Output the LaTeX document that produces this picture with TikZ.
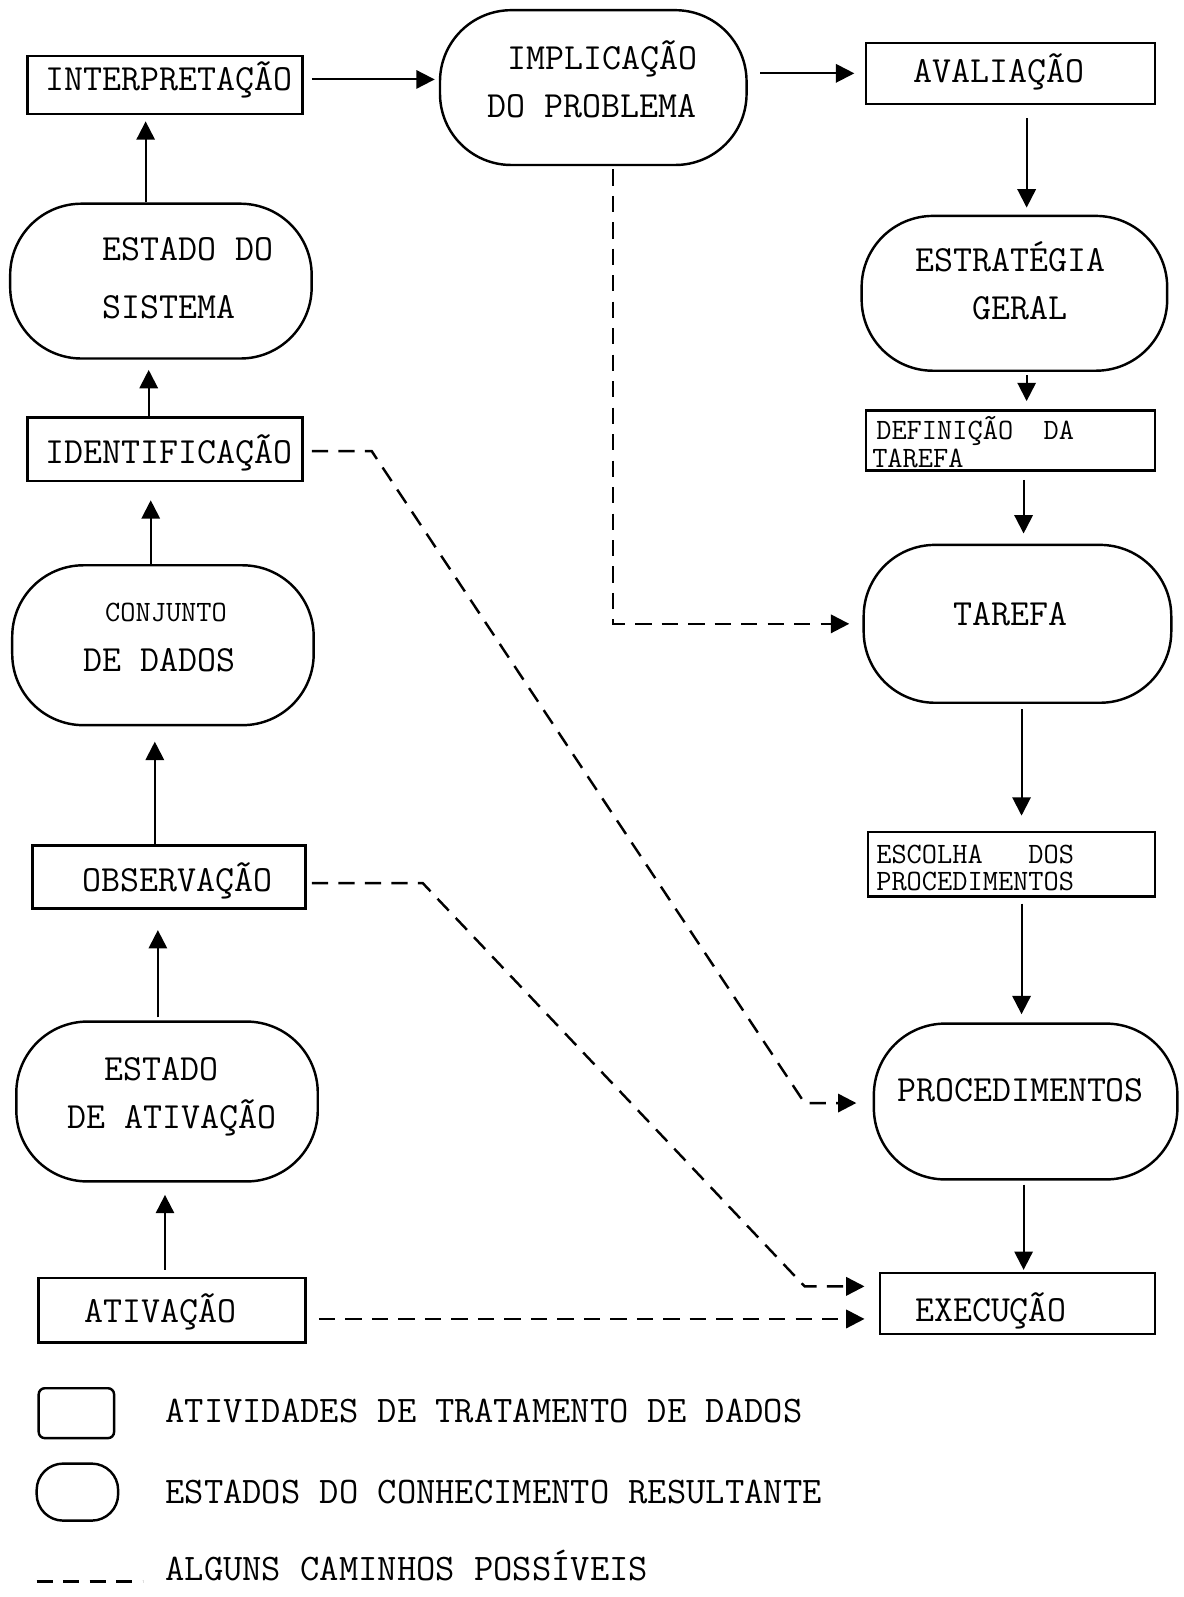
\documentclass[tikz,border=0pt]{standalone}
\usepackage{fontspec}
\usetikzlibrary{arrows.meta}
% typewriter-style lettering
\newcommand\lblfont{\ttfamily\fontsize{18.1pt}{20pt}\selectfont}
\newcommand\keyfont{\ttfamily\fontsize{18.4pt}{20pt}\selectfont}
\newcommand\cndfont{\ttfamily\fontsize{14.5pt}{16pt}\selectfont}
\begin{document}
\begin{tikzpicture}[x=0.5pt,y=-0.5pt,
  actbox/.style={draw, line width=1.2pt, inner sep=0pt},
  knowstate/.style={draw, line width=1.2pt, rounded corners=35pt, inner sep=0pt},
  lbl/.style={font=\lblfont, inner sep=0pt},
  keylbl/.style={font=\keyfont, inner sep=0pt},
  cnd/.style={font=\cndfont, inner sep=0pt},
  arr/.style={line width=1pt, -{Triangle[length=9pt,width=9pt]}},
  dsh/.style={line width=1.2pt, dash pattern=on 8pt off 5pt, -{Triangle[length=9pt,width=9pt]}}]
\useasboundingbox (0,0) rectangle (1162,1568);

% ---- left column (analysis) ----
\node[actbox, minimum width=135pt, minimum height=28.5pt] (interp) at (162,83.5) {};
\node[lbl, anchor=base] at (166,89) {INTERPRETAÇÃO};

\node[knowstate, minimum width=148pt, minimum height=76pt] (sis) at (158,276) {};
\node[lbl, anchor=base west] at (100,256) {ESTADO DO};
\node[lbl, anchor=base west] at (100,313) {SISTEMA};

\node[actbox, minimum width=135pt, minimum height=31pt] (ident) at (162,441) {};
\node[lbl, anchor=base] at (166,455) {IDENTIFICAÇÃO};

\node[knowstate, minimum width=148pt, minimum height=78.5pt] (conj) at (160,633.5) {};
\node[cnd, anchor=base] at (163,610) {CONJUNTO};
\node[lbl, anchor=base west] at (82,659) {DE DADOS};

\node[actbox, minimum width=134pt, minimum height=31pt] (obs) at (166,861) {};
\node[lbl, anchor=base] at (174,875) {OBSERVAÇÃO};

\node[knowstate, minimum width=148pt, minimum height=78.5pt] (eativ) at (164,1081.5) {};
\node[lbl, anchor=base west] at (102,1061) {ESTADO};
\node[lbl, anchor=base west] at (66,1108) {DE ATIVAÇÃO};

\node[actbox, minimum width=131pt, minimum height=31.5pt] (ativ) at (169,1286.5) {};
\node[lbl, anchor=base] at (158,1298) {ATIVAÇÃO};

% ---- top ----
\node[knowstate, minimum width=150.5pt, minimum height=76pt] (impl) at (582.5,86) {};
\node[lbl, anchor=base west] at (498,68) {IMPLICAÇÃO};
\node[lbl, anchor=base west] at (478,115) {DO PROBLEMA};

\node[actbox, minimum width=142pt, minimum height=30pt] (aval) at (992,72) {};
\node[lbl, anchor=base] at (981,81) {AVALIAÇÃO};

% ---- right column (planning and execution) ----
\node[knowstate, minimum width=150pt, minimum height=76pt] (estr) at (996,288) {};
\node[lbl, anchor=base] at (992,267) {ESTRATÉGIA};
\node[lbl, anchor=base] at (1001,314) {GERAL};

\node[actbox, minimum width=142pt, minimum height=29.5pt] (def) at (992,432.5) {};
\node[cnd, anchor=base west] at (860,432) {DEFINIÇÃO~~DA};
\node[cnd, anchor=base west] at (856,459) {TAREFA};

\node[knowstate, minimum width=151pt, minimum height=77.5pt] (tar) at (999,612.5) {};
\node[lbl, anchor=base] at (992,614) {TAREFA};

\node[actbox, minimum width=141pt, minimum height=31.5pt] (esc) at (993,848.5) {};
\node[cnd, anchor=base west] at (860,848) {ESCOLHA~~~DOS};
\node[cnd, anchor=base west] at (860,874) {PROCEDIMENTOS};

\node[knowstate, minimum width=149pt, minimum height=76.5pt] (proc) at (1007,1081.5) {};
\node[lbl, anchor=base] at (1002,1081) {PROCEDIMENTOS};

\node[actbox, minimum width=135pt, minimum height=30pt] (exec) at (999,1280) {};
\node[lbl, anchor=base] at (973,1297) {EXECUÇÃO};

% ---- solid connectors ----
\draw[arr, shorten >=3pt] ([xshift=-7.5pt]sis.north) -- ([xshift=-7.5pt]sis.north |- interp.south);
\draw[arr, shorten >=5pt] ([xshift=-8pt]ident.north) -- ([xshift=-8pt]ident.north |- sis.south);
\draw[arr, shorten >=9pt] ([xshift=-6pt]conj.north) -- ([xshift=-6pt]conj.north |- ident.south);
\draw[arr, shorten >=7.5pt] ([xshift=-7pt]obs.north) -- ([xshift=-7pt]obs.north |- conj.south);
\draw[arr, shorten <=1.5pt, shorten >=10pt] ([xshift=-4.5pt]eativ.north) -- ([xshift=-4.5pt]eativ.north |- obs.south);
\draw[arr, shorten <=3.5pt, shorten >=6pt] ([xshift=-3.5pt]ativ.north) -- ([xshift=-3.5pt]ativ.north |- eativ.south);
\draw[arr, shorten <=4pt, shorten >=2pt] ([yshift=2.75pt]interp.east) -- ([yshift=2.75pt]interp.east -| impl.west);
\draw[arr, shorten <=6pt, shorten >=5pt] (impl.east |- aval.west) -- (aval.west);
\draw[arr, shorten <=6.5pt, shorten >=3.5pt] ([xshift=8pt]aval.south) -- ([xshift=8pt]aval.south |- estr.north);
\draw[arr, shorten <=1.5pt, shorten >=4pt] ([xshift=6pt]estr.south) -- ([xshift=6pt]estr.south |- def.north);
\draw[arr, shorten <=4pt, shorten >=5pt] ([xshift=6.5pt]def.south) -- ([xshift=6.5pt]def.south |- tar.north);
\draw[arr, shorten <=2.5pt, shorten >=7.5pt] ([xshift=2pt]tar.south) -- ([xshift=2pt]tar.south |- esc.north);
\draw[arr, shorten <=3pt, shorten >=4pt] ([xshift=5pt]esc.south) -- ([xshift=5pt]esc.south |- proc.north);
\draw[arr, shorten <=2pt, shorten >=1pt] ([xshift=-1pt]proc.south) -- ([xshift=-1pt]proc.south |- exec.north);

% ---- possible shortcuts (dashed) ----
\coordinate (i1) at (365,443);
\coordinate (i2) at (790,1083);
\coordinate (o1) at (415,867);
\coordinate (o2) at (790,1263);
\draw[dsh, shorten <=1.5pt, shorten >=6.5pt] ([xshift=9.75pt]impl.south) |- (tar.west);
\draw[dsh, shorten <=4pt, shorten >=8pt] ([yshift=-1pt]ident.east) -- (i1) -- (i2) -- (i2 -| proc.west);
\draw[dsh, shorten <=2.5pt, shorten >=7pt] ([yshift=-3pt]obs.east) -- (o1) -- (o2) -- (o2 -| exec.west);
\draw[dsh, shorten <=6pt, shorten >=7pt] ([yshift=-4.25pt]ativ.east) -- ([yshift=-4.25pt]ativ.east -| exec.west);

% ---- key ----
\node[draw, line width=1.2pt, rounded corners=3pt, minimum width=37pt, minimum height=24.5pt, inner sep=0pt] (keybox) at (75,1387.5) {};
\node[keylbl, anchor=base west] at (162,1397) {ATIVIDADES DE TRATAMENTO DE DADOS};
\node[draw, line width=1.2pt, rounded corners=13pt, minimum width=40pt, minimum height=28pt, inner sep=0pt] (keystate) at (76,1465) {};
\node[keylbl, anchor=base west] at (162,1476) {ESTADOS DO CONHECIMENTO RESULTANTE};
\coordinate (k1) at (36,1553);
\coordinate (k2) at (140,1553);
\draw[line width=1.5pt, dash pattern=on 8pt off 5pt] (k1) -- (k2);
\node[keylbl, anchor=base west] at (162,1552) {ALGUNS CAMINHOS POSSÍVEIS};
\end{tikzpicture}
\end{document}
